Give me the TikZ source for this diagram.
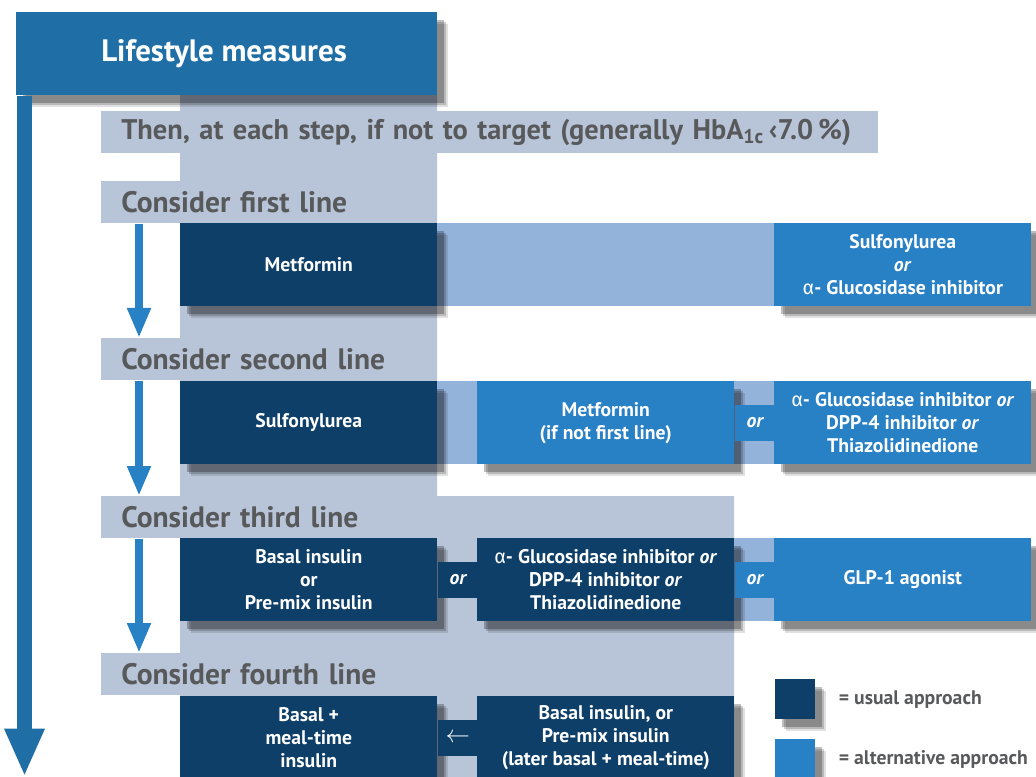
\documentclass[tikz,border=0pt]{standalone}
\usepackage{fontspec}
\setmainfont{PT Sans}
\newfontfamily\grkfont{Fira Sans}
\usetikzlibrary{arrows.meta,shadows}

\definecolor{lifeblue}{HTML}{1F6EA5}
\definecolor{usualblue}{HTML}{0E3F68}
\definecolor{altblue}{HTML}{2880C5}
\definecolor{paleblue}{HTML}{94B3DB}
\definecolor{bandgray}{HTML}{B8C4D7}
\definecolor{headgray}{HTML}{58595B}

\newlength\px
\setlength\px{0.025cm}
\newcommand\al{{\grkfont\mdseries α}}

\tikzset{
  boxshadow/.style={
      drop shadow={shadow xshift=11\px, shadow yshift=-12\px, fill=black, opacity=0.12},
      drop shadow={shadow xshift=9\px, shadow yshift=-10\px, fill=black, opacity=0.18},
      drop shadow={shadow xshift=7\px, shadow yshift=-8\px, fill=black, opacity=0.25}},
  usual/.style={boxshadow, fill=usualblue, text=white, align=center,
      font=\fontsize{14}{16.4}\selectfont\bfseries, anchor=north west,
      inner sep=0pt, minimum width=257\px, minimum height=83\px},
  alternative/.style={usual, fill=altblue},
  stephead/.style={fill=bandgray, text=headgray, anchor=north west,
      font=\fontsize{21}{24}\selectfont\bfseries, align=left, text width=#1,
      inner xsep=20\px, inner ysep=0pt, minimum height=42\px},
  orlink/.style={fill=#1, text=white, anchor=west, inner sep=0pt,
      font=\fontsize{14}{14}\selectfont\bfseries\itshape,
      minimum width=40\px, minimum height=36\px},
  steparrow/.style={draw=altblue, line width=8\px,
      -{Triangle[length=0.75cm, width=0.55cm]}},
  legendtext/.style={text=headgray, anchor=west, inner sep=0pt,
      font=\fontsize{14}{14}\selectfont\bfseries},
}

\begin{document}
\begin{tikzpicture}[x=1\px, y=-1\px]
  \useasboundingbox (0,0) rectangle (1036,776);

  % gray column behind the steps
  \fill[bandgray] (180,95) -- (437,95) -- (437,496) -- (734,496)
      -- (734,790) -- (180,790) -- cycle;

  \node[stephead=737\px, font=\fontsize{20.2}{24}\selectfont\bfseries] (goal) at (101,111)
      {Then, at each step, if not to target (generally HbA\textsubscript{1c}\,‹7.0\,\%)};
  \node[stephead=296\px] (first) at (101,181) {Consider first line};
  \node[stephead=296\px] (second) at (101,338) {Consider second line};
  \node[stephead=593\px] (third) at (101,496) {Consider third line};
  \node[stephead=296\px] (fourth) at (101,653) {Consider fourth line};

  % pale bands behind the alternatives
  \fill[paleblue] (437,223) rectangle (774,306);
  \fill[paleblue] (437,381) rectangle (774,464);
  \fill[paleblue] (734,538) rectangle (774,621);

  \node[boxshadow, fill=lifeblue, anchor=north west, inner sep=0pt,
      minimum width=421\px, minimum height=83\px] (life) at (16,12) {};
  \node[text=white, anchor=west, inner sep=0pt,
      font=\fontsize{22}{24}\selectfont\bfseries] (lifetext)
      at ([xshift=85\px]life.west) {Lifestyle measures};
  \draw[draw=lifeblue, line width=15\px, -{Triangle[length=1.2cm, width=0.925cm]}]
      ([xshift=8.5\px]life.south west) -- ++(0,681);

  % first line
  \node[usual] (metf1) at (180,223) {Metformin};
  \node[alternative] (sulf1) at (774,223)
      {Sulfonylurea\\\textit{or}\\\al- Glucosidase inhibitor};

  % second line
  \node[usual] (sulf2) at (180,381) {Sulfonylurea};
  \node[alternative] (metf2) at (477,381) {Metformin\\(if not first line)};
  \node[alternative] (gluc2) at (774,381)
      {\al- Glucosidase inhibitor \textit{or}\\DPP-4 inhibitor \textit{or}\\Thiazolidinedione};
  \node[orlink=altblue] (or2) at (metf2.east) {or};

  % third line
  \node[usual] (basal3) at (180,538) {Basal insulin\\or\\Pre-mix insulin};
  \node[usual] (gluc3) at (477,538)
      {\al- Glucosidase inhibitor \textit{or}\\DPP-4 inhibitor \textit{or}\\Thiazolidinedione};
  \node[alternative] (glp3) at (774,538) {GLP-1 agonist};
  \node[orlink=usualblue] (or3a) at (basal3.east) {or};
  \node[orlink=altblue] (or3b) at (gluc3.east) {or};

  % fourth line
  \node[usual] (meal4) at (180,696) {Basal +\\meal-time\\insulin};
  \node[usual] (premix4) at (477,696)
      {Basal insulin, or\\Pre-mix insulin\\(later basal + meal-time)};
  \node[orlink=usualblue, font=\fontsize{16}{16}\selectfont] (back4) at (meal4.east) {$\leftarrow$};

  \draw[steparrow] ([xshift=38\px]first.south west) -- ([xshift=38\px]second.north west);
  \draw[steparrow] ([xshift=38\px]second.south west) -- ([xshift=38\px]third.north west);
  \draw[steparrow] ([xshift=38\px]third.south west) -- ([xshift=38\px]fourth.north west);

  % legend
  \node[usual, minimum width=40\px, minimum height=40\px] (legusual) at (775,679) {};
  \node[alternative, minimum width=40\px, minimum height=40\px] (legalt) at (775,739) {};
  \node[legendtext] (legusualtext) at ([xshift=23\px]legusual.east) {= usual approach};
  \node[legendtext] (legalttext) at ([xshift=23\px]legalt.east) {= alternative approach};
\end{tikzpicture}
\end{document}
